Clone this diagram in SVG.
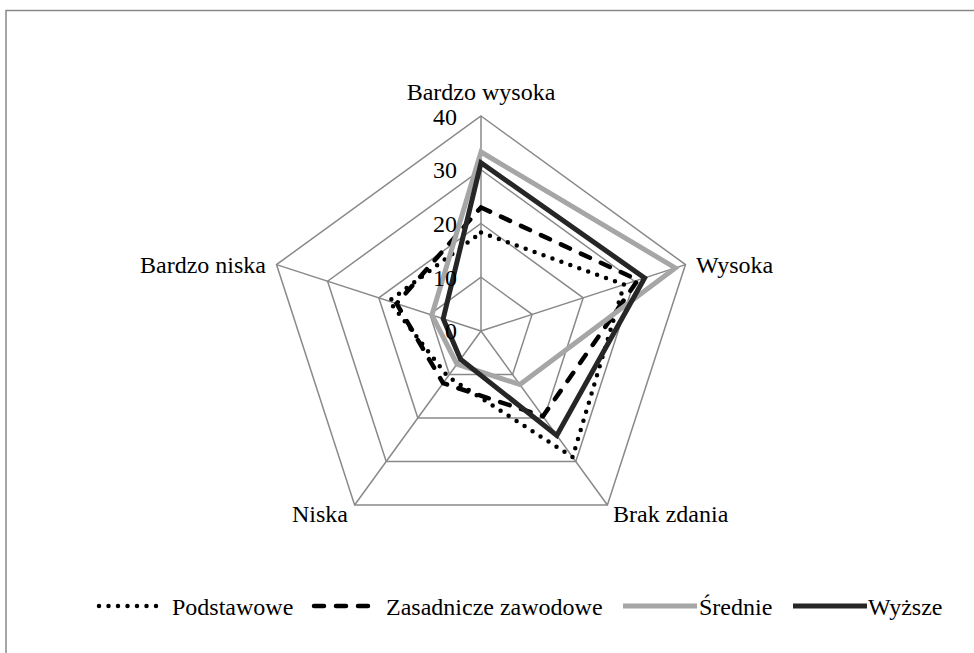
<svg xmlns="http://www.w3.org/2000/svg" width="974" height="653" viewBox="0 0 974 653" font-family="'Liberation Serif', 'DejaVu Serif', serif">
  <style>
    text { font-family: "Liberation Serif", "DejaVu Serif", serif; font-size: 24px; fill: #000; }
    .grid { fill: none; stroke: #898989; stroke-width: 1.5; }
    .s { fill: none; stroke-linejoin: miter; }
    .pod { stroke: #000; stroke-width: 4.5; stroke-dasharray: 0 9.5; stroke-linecap: round; }
    .zas { stroke: #000; stroke-width: 4.5; stroke-dasharray: 10 12; stroke-linecap: round; }
    .sre { stroke: #a6a6a6; stroke-width: 5; }
    .wyz { stroke: #262626; stroke-width: 5; }
    .tick { text-anchor: end; }
  </style>

  <!-- chart frame -->
  <rect x="6" y="10.5" width="1000" height="700" fill="#fff" stroke="#888" stroke-width="1.5"/>

  <!-- radar grid: rings at 10, 20, 30, 40 and spokes -->
  <g id="grid" class="grid">
    <polygon points="481,277.25 532.1,314.4 512.6,374.5 449.4,374.5 429.9,314.4"/>
    <polygon points="481,223.5 583.2,297.8 544.2,418 417.8,418 378.8,297.8"/>
    <polygon points="481,169.75 634.4,281.2 575.8,461.5 386.2,461.5 327.6,281.2"/>
    <polygon points="481,116 685.5,264.6 607.4,505 354.6,505 276.5,264.6"/>
    <line x1="481" y1="331" x2="481" y2="116"/>
    <line x1="481" y1="331" x2="685.5" y2="264.6"/>
    <line x1="481" y1="331" x2="607.4" y2="505"/>
    <line x1="481" y1="331" x2="354.6" y2="505"/>
    <line x1="481" y1="331" x2="276.5" y2="264.6"/>
  </g>

  <!-- data series -->
  <g id="connectors">
    <polygon id="series-podstawowe" class="s pod" points="481,232.6 624.1,284.5 572.6,457.1 447.8,376.6 389,301.1"/>
    <polygon id="series-zasadnicze" class="s zas" points="481,207.4 637.9,280 543,416.2 443.1,383.2 396.6,303.6"/>
    <polygon id="series-srednie" class="s sre" points="481,152 675.3,267.9 519.9,384.5 457,364.1 431.9,315.1"/>
    <polygon id="series-wyzsze" class="s wyz" points="481,162.8 644.6,277.9 556.8,435.4 460.5,359.2 443.2,318.7"/>
  </g>

  <!-- axis scale -->
  <g id="scale">
    <text class="tick" x="457" y="125">40</text>
    <text class="tick" x="457" y="178">30</text>
    <text class="tick" x="457" y="232">20</text>
    <text class="tick" x="457" y="286">10</text>
    <text class="tick" x="457" y="339">0</text>
  </g>

  <!-- category labels -->
  <g id="cat-bardzo-wysoka"><text x="481" y="100" text-anchor="middle">Bardzo wysoka</text></g>
  <g id="cat-wysoka"><text x="696" y="273">Wysoka</text></g>
  <g id="cat-brak-zdania"><text x="613" y="522">Brak zdania</text></g>
  <g id="cat-niska"><text x="348" y="522" text-anchor="end">Niska</text></g>
  <g id="cat-bardzo-niska"><text x="266" y="273" text-anchor="end">Bardzo niska</text></g>

  <!-- legend -->
  <g id="legend">
    <g id="legend-podstawowe">
      <line class="pod" x1="99" y1="606" x2="158" y2="606"/>
      <text x="172" y="615">Podstawowe</text>
    </g>
    <g id="legend-zasadnicze">
      <line class="zas" x1="314" y1="606" x2="374" y2="606"/>
      <text x="386" y="615">Zasadnicze zawodowe</text>
    </g>
    <g id="legend-srednie">
      <line class="sre" x1="623" y1="606" x2="697" y2="606"/>
      <text x="699" y="615">Średnie</text>
    </g>
    <g id="legend-wyzsze">
      <line class="wyz" x1="793" y1="606" x2="867" y2="606"/>
      <text x="868" y="615">Wyższe</text>
    </g>
  </g>
</svg>
